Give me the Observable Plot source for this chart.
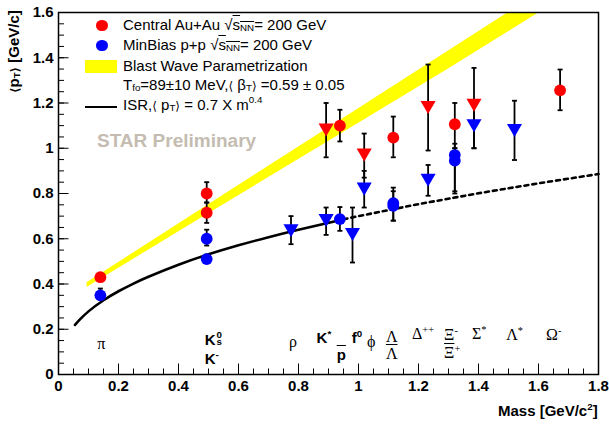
<!DOCTYPE html>
<html><head><meta charset="utf-8">
<script src="https://cdn.jsdelivr.net/npm/d3@7"></script>
<script src="https://cdn.jsdelivr.net/npm/@observablehq/plot@0.6"></script>
<style>
body{margin:0;background:#fff;}
#wrap{position:relative;width:609px;height:429px;font-family:"Liberation Sans",Arial,sans-serif;color:#000;overflow:hidden;}
.t{position:absolute;white-space:nowrap;line-height:1;}
.g{font-family:"Liberation Serif","Times New Roman",serif;}
.b{font-weight:bold;}
.t sub,.t sup{font-size:0.65em;line-height:0;}
.t sub{vertical-align:-0.15em;}
.ol{text-decoration:overline;}
.sw{position:absolute;}
.ab{font-family:"DejaVu Sans",sans-serif;font-size:0.8em;}
.stk{display:inline-block;white-space:pre;font-size:0.65em;line-height:0.78;vertical-align:-1px;margin-left:1px;}
</style></head><body><div id="wrap"></div>
<script>
// ---------- data ----------
// Central Au+Au, circles
const auCircMass = [0.1396, 0.494, 0.494, 0.938, 1.116, 1.321, 1.672];
const auCircPt   = [0.43, 0.80, 0.715, 1.10, 1.047, 1.106, 1.256];
const auCircLo   = [0.42, 0.76, 0.67, 1.03, 0.96, 1.00, 1.168];
const auCircHi   = [0.44, 0.85, 0.76, 1.17, 1.14, 1.20, 1.348];
// Central Au+Au, triangles (resonances)
const auTriMass = [0.892, 1.019, 1.232, 1.385];
const auTriPt   = [1.09, 0.98, 1.19, 1.20];
const auTriLo   = [0.96, 0.87, 0.99, 1.00];
const auTriHi   = [1.20, 1.065, 1.37, 1.355];
// MinBias p+p, circles
const ppCircMass = [0.1396, 0.494, 0.494, 0.938, 1.116, 1.116, 1.321, 1.321];
const ppCircPt   = [0.35, 0.60, 0.51, 0.687, 0.757, 0.745, 0.97, 0.945];
const ppCircLo   = [0.33, 0.57, 0.50, 0.635, 0.68, 0.68, 0.81, 0.80];
const ppCircHi   = [0.38, 0.64, 0.53, 0.74, 0.826, 0.81, 1.02, 1.00];
// MinBias p+p, triangles (resonances)
const ppTriMass = [0.775, 0.892, 0.980, 1.019, 1.232, 1.385, 1.520];
const ppTriPt   = [0.645, 0.69, 0.628, 0.829, 0.868, 1.109, 1.088];
const ppTriLo   = [0.576, 0.617, 0.495, 0.738, 0.79, 1.00, 0.948];
const ppTriHi   = [0.70, 0.738, 0.738, 0.90, 0.926, 1.20, 1.21];
// Blast wave band edges
const bandMass = [0.095, 0.5, 0.9, 1.3, 1.7];
const bandLo   = [0.385, 0.71, 1.03, 1.35, 1.68];
const bandHi   = [0.405, 0.75, 1.09, 1.43, 1.77];
// ISR curve, solid part and dotted extrapolation
const isrSolidMass = [0.055, 0.07, 0.1, 0.15, 0.2, 0.25, 0.3, 0.4, 0.5, 0.6, 0.7, 0.8, 0.93];
const isrSolidPt   = [0.219, 0.241, 0.279, 0.328, 0.368, 0.402, 0.432, 0.485, 0.531, 0.571, 0.607, 0.640, 0.680];
const isrDotMass = [0.95, 1.0, 1.2, 1.4, 1.6, 1.8];
const isrDotPt   = [0.686, 0.700, 0.753, 0.801, 0.845, 0.886];
// axis ticks
const xTicks = [0, 0.2, 0.4, 0.6, 0.8, 1.0, 1.2, 1.4, 1.6, 1.8];
const yTicks = [0, 0.2, 0.4, 0.6, 0.8, 1.0, 1.2, 1.4, 1.6];
// particle labels along the bottom
const labelText = ["π", "K<span class='stk'>0\ns</span>", "K<sup>-</sup>", "ρ", "K<sup>*</sup>",
  "<span class='ol'>p</span>", "f<sup>0</sup>", "ϕ", "Λ", "<span class='ol'>Λ</span>", "Δ<sup>++</sup>",
  "Ξ<sup>-</sup>", "<span class='ol'>Ξ</span><sup>+</sup>", "Σ<sup>*</sup>", "Λ<sup>*</sup>", "Ω<sup>-</sup>"];
const labelMass = [0.131, 0.489, 0.489, 0.770, 0.862, 0.929, 0.979, 1.030, 1.093, 1.093, 1.180, 1.287, 1.287, 1.380, 1.494, 1.627];
const labelPt   = [0.106, 0.135, 0.047, 0.115, 0.137, 0.064, 0.137, 0.115, 0.137, 0.062, 0.154, 0.15, 0.07, 0.154, 0.15, 0.15];
const labelBold = [false, true, true, false, true, true, true, false, false, false, false, false, false, false, false, false];

// ---------- tables ----------
const mk = (M, P, L, H) => M.map((m, i) => ({m, pt: P[i], lo: L[i], hi: H[i]}));
const auCirc = mk(auCircMass, auCircPt, auCircLo, auCircHi);
const auTri = mk(auTriMass, auTriPt, auTriLo, auTriHi);
const ppCirc = mk(ppCircMass, ppCircPt, ppCircLo, ppCircHi);
const ppTri = mk(ppTriMass, ppTriPt, ppTriLo, ppTriHi);
const allPts = [...auCirc, ...auTri, ...ppCirc, ...ppTri];
const caps = allPts.flatMap(d => [{m: d.m, v: d.lo}, {m: d.m, v: d.hi}]);
const band = bandMass.map((m, i) => ({m, lo: bandLo[i], hi: bandHi[i]}));
const isrSolid = isrSolidMass.map((m, i) => ({m, pt: isrSolidPt[i]}));
const isrDot = isrDotMass.map((m, i) => ({m, pt: isrDotPt[i]}));
const xMinor = d3.range(0, 37).map(i => i * 0.05);
const yMinor = d3.range(0, 33).map(i => i * 0.05);

const W = 609, H = 429, mL = 58, mR = 11, mT = 12, mB = 55;
const fw = W - mL - mR, fh = H - mT - mB;
const capSym = {draw(ctx) { ctx.moveTo(-2.5, 0); ctx.lineTo(2.5, 0); }};
const fmt = d => String(+d.toFixed(1));

const plot = Plot.plot({
  width: W, height: H,
  marginLeft: mL, marginRight: mR, marginTop: mT, marginBottom: mB,
  style: {background: "white", color: "black", fontFamily: "'Liberation Sans', Arial, sans-serif"},
  x: {domain: [0, 1.8]},
  y: {domain: [0, 1.6]},
  marks: [
    Plot.areaY(band, {x: "m", y1: "lo", y2: "hi", fill: "#ffff00", clip: true}),
    Plot.line(isrSolid, {x: "m", y: "pt", stroke: "black", strokeWidth: 2.6, curve: "natural"}),
    Plot.line(isrDot, {x: "m", y: "pt", stroke: "black", strokeWidth: 2.6, strokeDasharray: "4,4"}),
    Plot.ruleX(allPts, {x: "m", y1: "lo", y2: "hi", stroke: "black", strokeWidth: 1.8}),
    Plot.dot(caps, {x: "m", y: "v", symbol: capSym, fill: "none", stroke: "black", strokeWidth: 1.8, r: 3}),
    Plot.dot(auCirc, {x: "m", y: "pt", r: 5.9, fill: "#ff0000"}),
    Plot.dot(ppCirc, {x: "m", y: "pt", r: 5.9, fill: "#0000ff"}),
    Plot.dot(auTri, {x: "m", y: "pt", r: 5.6, symbol: "triangle", rotate: 180, fill: "#ff0000"}),
    Plot.dot(ppTri, {x: "m", y: "pt", r: 5.6, symbol: "triangle", rotate: 180, fill: "#0000ff"}),
    Plot.ruleX(xTicks, {x: d => d, insetTop: fh - 10.5, stroke: "black", strokeWidth: 1}),
    Plot.ruleX(xMinor, {x: d => d, insetTop: fh - 5.5, stroke: "black", strokeWidth: 1}),
    Plot.ruleY(yTicks, {y: d => d, insetRight: fw - 10.5, stroke: "black", strokeWidth: 1}),
    Plot.ruleY(yMinor, {y: d => d, insetRight: fw - 6, stroke: "black", strokeWidth: 1}),
    Plot.axisX(xTicks, {tickSize: 0, tickPadding: 6, tickFormat: fmt, fontSize: 15, fontWeight: "bold", label: null}),
    Plot.axisY(yTicks, {tickSize: 0, tickPadding: 5, tickFormat: fmt, fontSize: 15, fontWeight: "bold", label: null}),
    Plot.frame({stroke: "black", strokeWidth: 1.5})
  ]
});

const wrap = document.getElementById("wrap");
wrap.appendChild(plot);

const sx = plot.scale("x"), sy = plot.scale("y");
const X = sx.apply ? v => sx.apply(v) : d3.scaleLinear(sx.domain, sx.range);
const Y = sy.apply ? v => sy.apply(v) : d3.scaleLinear(sy.domain, sy.range);

function put(html, left, baseline, cls, size) {
  const d = document.createElement("div");
  d.className = "t " + cls;
  d.style.fontSize = size + "px";
  d.innerHTML = html;
  d.style.left = left + "px";
  d.style.top = (baseline - 0.845 * size) + "px";
  wrap.appendChild(d);
  return d;
}
function box(left, top, w, h, css) {
  const d = document.createElement("div");
  d.className = "sw";
  d.style.cssText += `left:${left}px;top:${top}px;width:${w}px;height:${h}px;${css}`;
  wrap.appendChild(d);
}

// particle labels
labelText.forEach((t, i) => {
  put(t, X(labelMass[i]), Y(labelPt[i]), labelBold[i] ? "b" : "g", labelBold[i] ? 15 : 16);
});

// legend
box(96, 19.5, 11.5, 11.5, "border-radius:50%;background:#ff0000;");
box(96, 39.5, 11.5, 11.5, "border-radius:50%;background:#0000ff;");
box(85, 59.5, 32, 13, "background:#ffff00;");
box(85, 105.5, 32, 2.6, "background:#000;");
const rad = "<span>√</span><span class='ol'>s<sub>NN</sub></span>";
put("Central Au+Au " + rad + "= 200 GeV", 123, 30, "", 15);
put("MinBias p+p " + rad + "= 200 GeV", 123, 50, "", 15);
put("Blast Wave Parametrization", 123, 70.5, "", 15);
put("T<sub>fo</sub>=89±10 MeV,<span class='ab'>⟨</span> β<sub>T</sub><span class='ab'>⟩</span> =0.59 ± 0.05", 123, 90, "", 15);
put("ISR,<span class='ab'>⟨</span> p<sub>T</sub><span class='ab'>⟩</span> = 0.7 X m<sup style='vertical-align:0.75em'>0.4</sup>", 123, 110, "", 15);

// watermark
put("STAR Preliminary", 97, 147, "b", 19).style.color = "#c4bcb1";

// axis titles
const xt = put("Mass [GeV/c<sup>2</sup>]", 0, 415.5, "b", 15);
xt.style.left = (W - mR - xt.offsetWidth) + "px";
const yt = document.createElement("div");
yt.className = "t b";
yt.style.fontSize = "15px";
yt.innerHTML = "<span class='ab'>⟨</span>p<sub>T</sub><span class='ab'>⟩</span> [GeV/c]";
wrap.appendChild(yt);
yt.style.transformOrigin = "0 0";
yt.style.transform = "rotate(-90deg)";
yt.style.left = "6px";
yt.style.top = (10 + yt.offsetWidth) + "px";
</script></body></html>
